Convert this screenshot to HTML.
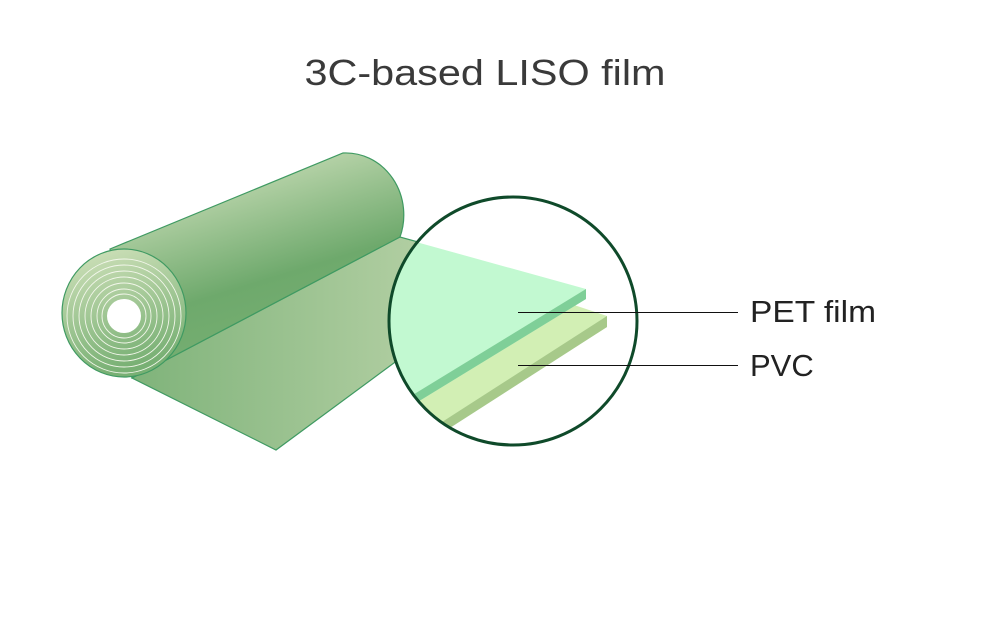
<!DOCTYPE html>
<html><head><meta charset="utf-8"><style>html,body{margin:0;padding:0;background:#fff}svg{display:block}</style></head>
<body>
<svg width="983" height="636" viewBox="0 0 983 636" xmlns="http://www.w3.org/2000/svg">
<defs>
<linearGradient id="sheet" x1="0" y1="0" x2="1" y2="0">
<stop offset="0" stop-color="#7fb37a"/><stop offset="1" stop-color="#c3d8b0"/></linearGradient>
<linearGradient id="cyl" x1="0.2" y1="0" x2="0.6" y2="1">
<stop offset="0" stop-color="#d8e6c4"/><stop offset="0.6" stop-color="#6ea96c"/><stop offset="1" stop-color="#7bb275"/></linearGradient>
<linearGradient id="end" x1="0" y1="0" x2="0.3" y2="1">
<stop offset="0" stop-color="#d3e3bd"/><stop offset="1" stop-color="#78b074"/></linearGradient>
<clipPath id="cc"><circle cx="513" cy="321" r="124"/></clipPath>
</defs>
<text x="485" y="85" text-anchor="middle" font-family="Liberation Sans, sans-serif" font-size="36" fill="#3a3a3a" textLength="361" lengthAdjust="spacingAndGlyphs">3C-based LISO film</text>
<polygon points="132,378 400,237 520,270 276,450" fill="url(#sheet)" stroke="#3f9a62" stroke-width="1.2"/>
<path d="M110,249 L343,153 A58,62 0 0 1 400,237 L132,378 Z" fill="url(#cyl)" stroke="#3f9a62" stroke-width="1.2"/>
<ellipse cx="124" cy="313" rx="62" ry="64" fill="url(#end)" stroke="#3f9a62" stroke-width="1.2"/>
<g fill="none" stroke="#f2f6ea" stroke-width="0.9">
<circle cx="124" cy="316" r="57"/><circle cx="124" cy="316" r="51"/><circle cx="124" cy="316" r="45"/>
<circle cx="124" cy="316" r="39"/><circle cx="124" cy="316" r="33"/><circle cx="124" cy="316" r="27"/><circle cx="124" cy="316" r="22"/>
</g>
<circle cx="124" cy="316" r="17" fill="#fff"/>
<circle cx="513" cy="321" r="124" fill="#fff"/>
<g clip-path="url(#cc)">
<polygon points="380,240 607,316 607,327 380,470" fill="#d2efb4"/>
<polygon points="607,316 607,327 400,460 400,449" fill="#a7c98a"/>
<polygon points="380,232 586,289 586,299 380,425" fill="#c2f9d1"/>
<polygon points="586,289 586,299 380,425 380,415" fill="#7fcf98"/>
</g>
<circle cx="513" cy="321" r="124" fill="none" stroke="#0f4a2a" stroke-width="3"/>
<line x1="518" y1="312.5" x2="738" y2="312.5" stroke="#111" stroke-width="1"/>
<line x1="518" y1="365.5" x2="738" y2="365.5" stroke="#111" stroke-width="1"/>
<text x="750" y="322" font-family="Liberation Sans, sans-serif" font-size="31" fill="#222" textLength="126" lengthAdjust="spacingAndGlyphs">PET film</text>
<text x="750" y="376" font-family="Liberation Sans, sans-serif" font-size="31" fill="#222">PVC</text>
</svg>
</body></html>
